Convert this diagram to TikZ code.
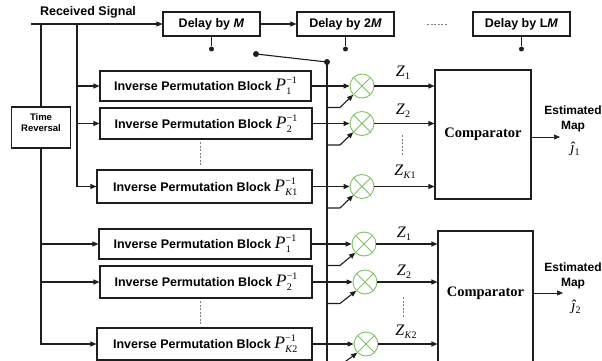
\documentclass[tikz,border=0pt]{standalone}
\usepackage{fontspec}
\setmainfont{Liberation Sans}
\newfontfamily\tms{Liberation Serif}
\usetikzlibrary{arrows.meta,calc}
\definecolor{ln}{RGB}{30,30,30}
\definecolor{grn}{RGB}{125,195,95}
\newcommand\mysub[1]{\mbox{\tms\mdseries\upshape\fontsize{10}{10}\selectfont #1}}
\newcommand\Pinv[1]{{\tms\mdseries\itshape\fontsize{17.5}{17.5}\selectfont P}\kern0.3pt\raisebox{-3.8pt}{\rlap{\mysub{#1}}}\raisebox{7pt}{\mysub{−1}}}
\newcommand\Zs[1]{{\tms\mdseries\itshape\fontsize{16}{16}\selectfont Z}\kern0.3pt\raisebox{-3.5pt}{\mysub{#1}}}
\begin{document}
\begin{tikzpicture}[x=1pt,y=-1pt,
  box/.style={draw=ln, line width=1.1pt, inner sep=0pt, font=\fontsize{12.5}{14}\selectfont\bfseries},
  wire/.style={draw=ln, line width=1.1pt},
  arr/.style={wire, -{Triangle[length=6pt,width=5pt]}},
  thinarr/.style={draw=ln, line width=0.6pt, -{Triangle[length=6pt,width=5pt]}},
  mult/.style={circle, draw=grn, line width=0.9pt, minimum size=24pt, inner sep=0pt},
  dot/.style={circle, fill=ln, minimum size=5pt, inner sep=0pt},
  dsh/.style={draw=gray, line width=0.8pt, dash pattern=on 2pt off 1.5pt},
  lbl/.style={font=\fontsize{12.5}{14}\selectfont\bfseries, inner sep=0pt},
  delay/.style={box, minimum width=97pt, minimum height=24pt},
  ipb/.style={box},
  cmpfont/.style={font=\tms\bfseries\fontsize{14.5}{16}\selectfont},
]
\useasboundingbox (0,0) rectangle (602,361);

% top row
\node[lbl] (rs) at (88,12) {Received Signal};
\node[delay] (dM) at (211.5,24) {Delay by \textit{M}};
\node[delay] (d2M) at (345.5,24) {Delay by 2\textit{M}};
\node[delay] (dLM) at (521.5,24) {Delay by L\textit{M}};
\coordinate (s0) at (31,24);
\coordinate (v1) at (41,24);
\coordinate (v2) at (77,24);
\draw[wire] (s0) -- (v1);
\draw[arr] (v1) -- (dM.west);
\draw[arr] (dM.east) -- (d2M.west);
\draw[dsh] (427,24) -- (447,24);
\node[dot] (pM) at (211.5,49) {};
\node[dot] (p2M) at (345.5,49) {};
\node[dot] (pLM) at (521.5,49) {};
\draw[wire] (dM.south) -- (pM);
\draw[wire] (d2M.south) -- (p2M);
\draw[wire] (dLM.south) -- (pLM);

% time reversal
\node[box, minimum width=59pt, minimum height=41pt] (tr) at (41,127.5) {};
\node[font=\fontsize{9.5}{11}\selectfont\bfseries, align=center] (trt) at (41,123) {Time\\Reversal};

% permutation blocks
\node[ipb, minimum width=211pt, minimum height=30pt] (a1) at (205.5,86) {Inverse Permutation Block \Pinv{1}};
\node[ipb, minimum width=212pt, minimum height=31pt] (a2) at (206,123.5) {Inverse Permutation Block \Pinv{2}};
\node[ipb, minimum width=215pt, minimum height=33pt] (aK) at (204.5,186.5) {Inverse Permutation Block \Pinv{\textit{K}1}};
\node[ipb, minimum width=212pt, minimum height=30pt] (b1) at (205,244) {Inverse Permutation Block \Pinv{1}};
\node[ipb, minimum width=212pt, minimum height=32pt] (b2) at (206,282) {Inverse Permutation Block \Pinv{2}};
\node[ipb, minimum width=215pt, minimum height=32pt] (bK) at (204.5,344) {Inverse Permutation Block \Pinv{\textit{K}2}};
\draw[dsh] (200,142) -- (200,166);
\draw[dsh] (200,301) -- (200,325);

\draw[wire] (v1) -- (tr.north);
\draw[arr] (v2) |- (aK.west);
\draw[arr] (v2 |- a1.west) -- (a1.west);
\draw[arr] (v2 |- a2.west) -- (a2.west);
\draw[arr] (tr.south) |- (bK.west);
\draw[arr] (tr.south |- b1.west) -- (b1.west);
\draw[arr] (tr.south |- b2.west) -- (b2.west);

% switch and bus
\node[dot, minimum size=6pt] (sw0) at (256,54) {};
\node[dot, minimum size=6pt] (sw1) at (327,62) {};
\coordinate (busend) at (327,362);
\draw[wire] (sw0) -- (sw1.center);
\draw[wire] (sw1.center) -- (busend);

% multipliers
\node[mult] (m11) at (362,86) {};
\node[mult] (m12) at (362,123.5) {};
\node[mult] (m1K) at (362,186.5) {};
\node[mult] (m21) at (364,244) {};
\node[mult] (m22) at (365,282) {};
\node[mult] (m2K) at (366,344) {};
\foreach \m in {m11,m12,m1K,m21,m22,m2K}{
  \draw[grn, line width=0.9pt] (\m.north west) -- (\m.south east) (\m.north east) -- (\m.south west);
  \draw[arr] ($(busend |- \m.south)+(0,9)$) -- ++(13,0) -- (\m.south west);
}
\draw[arr] (a1.east) -- (m11.west);
\draw[arr] (a2.east) -- (m12.west);
\draw[arr] (aK.east) -- (m1K.west);
\draw[arr] (b1.east) -- (m21.west);
\draw[arr] (b2.east) -- (m22.west);
\draw[arr] (bK.east) -- (m2K.west);

% comparators
\node[box, minimum width=96pt, minimum height=129pt, cmpfont] (c1) at (483,134.5) {Comparator};
\node[box, minimum width=95pt, minimum height=144pt] (c2) at (485.5,303) {};
\node[cmpfont] (c2t) at (485.5,293) {Comparator};

\draw[arr] (m11.east) -- (m11.east -| c1.west);
\draw[arr] (m12.east) -- (m12.east -| c1.west);
\draw[arr] (m1K.east) -- (m1K.east -| c1.west);
\draw[arr] (m21.east) -- (m21.east -| c2.west);
\draw[arr] (m22.east) -- (m22.east -| c2.west);
\draw[arr] (m2K.east) -- (m2K.east -| c2.west);

\node (z11) at (403,73) {\Zs{1}};
\node (z12) at (403,111) {\Zs{2}};
\node (z1K) at (405,172) {\Zs{\textit{K}1}};
\node (z21) at (404,234) {\Zs{1}};
\node (z22) at (404,272) {\Zs{2}};
\node (z2K) at (406,332) {\Zs{\textit{K}2}};
\draw[dsh] (402,135) -- (402,155);
\draw[dsh] (403,297) -- (403,317);

% outputs
\coordinate (e1) at (560,137);
\coordinate (e2) at (563,293);
\draw[thinarr] (c1.east |- e1) -- (e1);
\draw[thinarr] (c2.east |- e2) -- (e2);
\node[font=\bfseries\fontsize{12}{15}\selectfont, align=center] (em1) at (573,118.5) {Estimated\\Map};
\node[font=\bfseries\fontsize{12}{15}\selectfont, align=center] (em2) at (573,275.5) {Estimated\\Map};
\node (j1) at (575,149) {{\tms\itshape\fontsize{15}{15}\selectfont ĵ}\raisebox{-3pt}{\mysub{1}}};
\node (j2) at (576,307) {{\tms\itshape\fontsize{15}{15}\selectfont ĵ}\raisebox{-3pt}{\mysub{2}}};
\end{tikzpicture}
\end{document}
